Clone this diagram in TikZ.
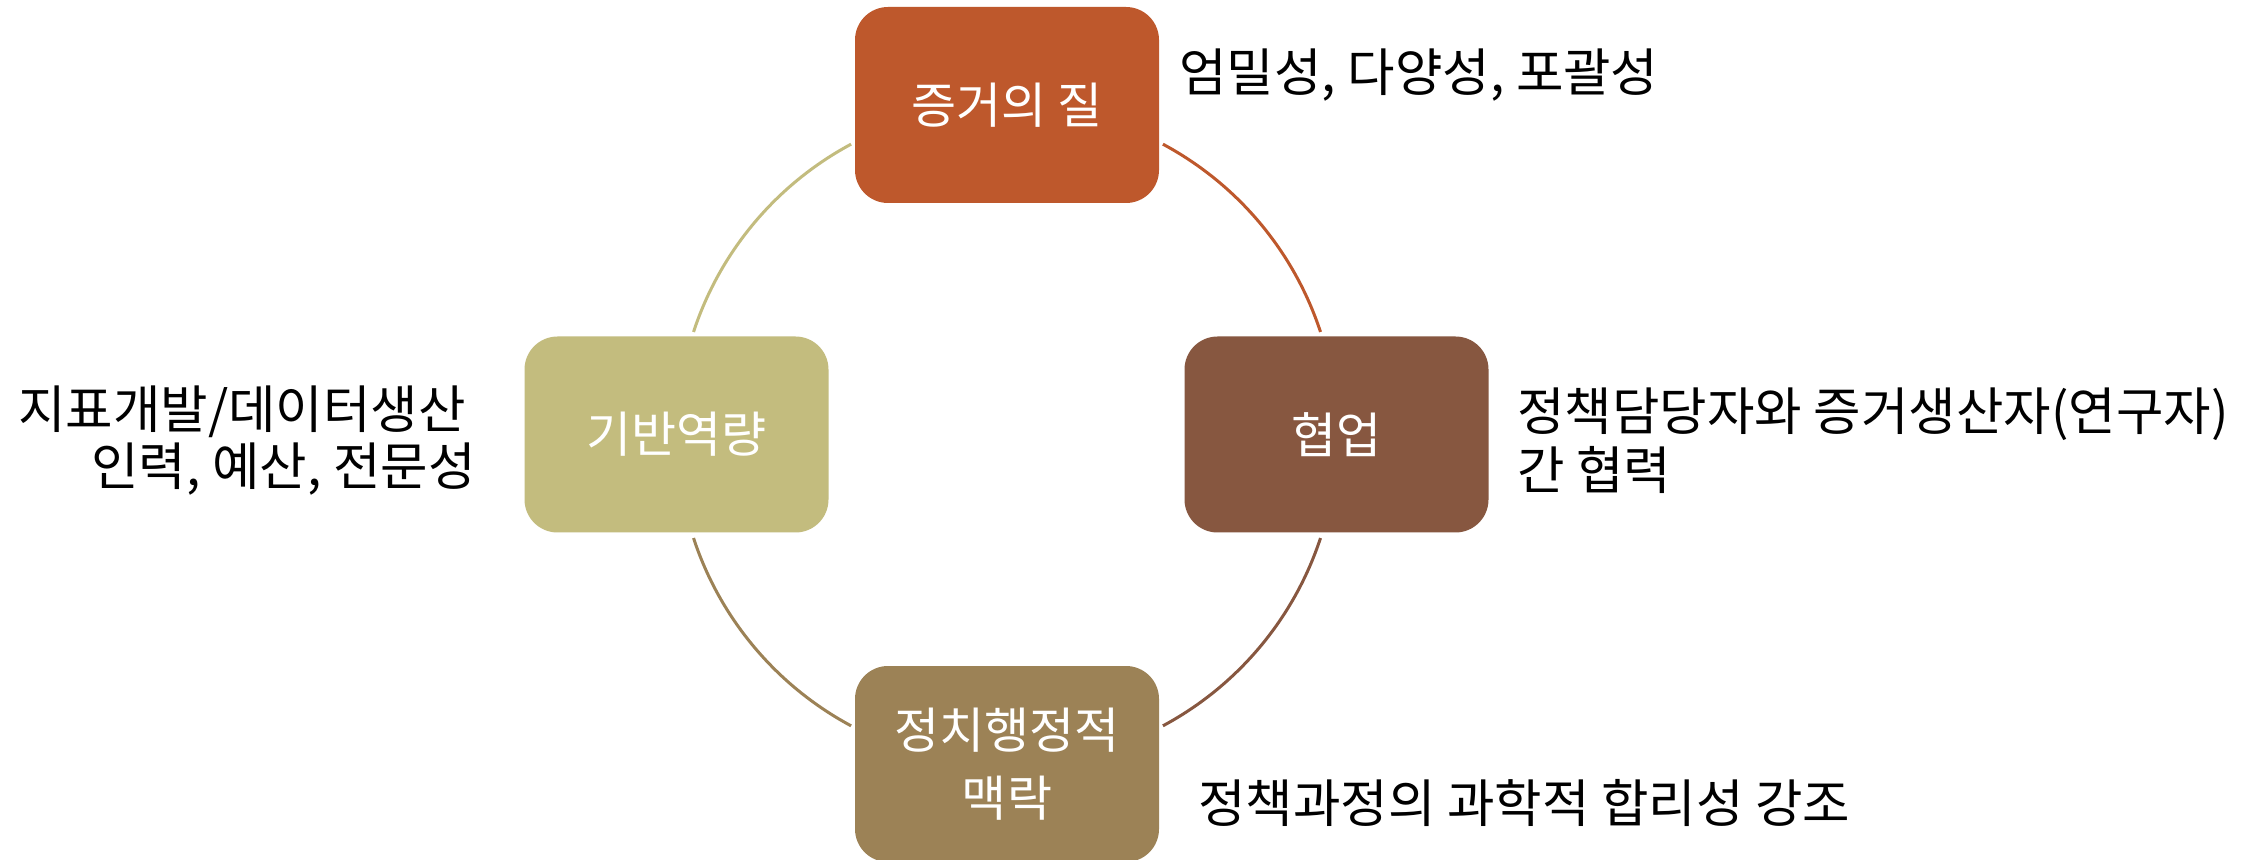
\documentclass[tikz,border=0pt]{standalone}
\usepackage{fontspec}
\usetikzlibrary{calc}
\setmainfont{Noto Sans CJK KR}
\definecolor{cTop}{RGB}{190,88,44}
\definecolor{cRight}{RGB}{135,87,64}
\definecolor{cBottom}{RGB}{156,130,86}
\definecolor{cLeft}{RGB}{195,188,126}
\tikzset{
  box/.style={rectangle, rounded corners=16.5pt, minimum width=152pt, minimum height=98pt,
    inner sep=0pt, text=white, align=center, font=\fontsize{24.5}{34}\selectfont},
  lbl/.style={inner sep=0pt, text=black, align=left, font=\fontsize{25.8}{29.5}\selectfont},
  ring/.style={line width=1.5pt}
}
\begin{document}
\begin{tikzpicture}[x=0.5pt,y=-0.5pt]
\useasboundingbox (0,0) rectangle (2253,860);
\clip (0,0) rectangle (2253,860);
\fill[white] (0,0) rectangle (2253,860);

\node[box, fill=cTop] (top) at (1007,105) {증거의 질};
\node[box, fill=cRight] (right) at (1336.5,434.5) {협업};
\node[box, fill=cBottom] (bottom) at (1007,764) {정치행정적\\맥락};
\node[box, fill=cLeft] (left) at (676.5,434.5) {기반역량};

\coordinate (O) at (1007,435);
\coordinate (tr) at ($(O)+(-61.8:330)$);
\coordinate (rb) at ($(O)+(18.2:330)$);
\coordinate (bl) at ($(O)+(118.2:330)$);
\coordinate (lt) at ($(O)+(-161.8:330)$);

\draw[ring, cTop] (tr) arc[start angle=-61.8, end angle=-18.2, radius=330];
\draw[ring, cRight] (rb) arc[start angle=18.2, end angle=61.8, radius=330];
\draw[ring, cBottom] (bl) arc[start angle=118.2, end angle=161.8, radius=330];
\draw[ring, cLeft] (lt) arc[start angle=-161.8, end angle=-118.2, radius=330];

\node[lbl, anchor=west] (ltop) at (1179,75) {엄밀성, 다양성, 포괄성};
\node[lbl, anchor=west] (lright) at (1517,441) {정책담당자와 증거생산자(연구자)\\간 협력};
\node[lbl, anchor=west] (lbottom) at (1198,803) {정책과정의 과학적 합리성 강조};
\node[lbl, anchor=west] (lleft1) at (18,412) {지표개발/데이터생산};
\node[lbl, anchor=east] (lleft2) at (476,469) {인력, 예산, 전문성};
\end{tikzpicture}
\end{document}
